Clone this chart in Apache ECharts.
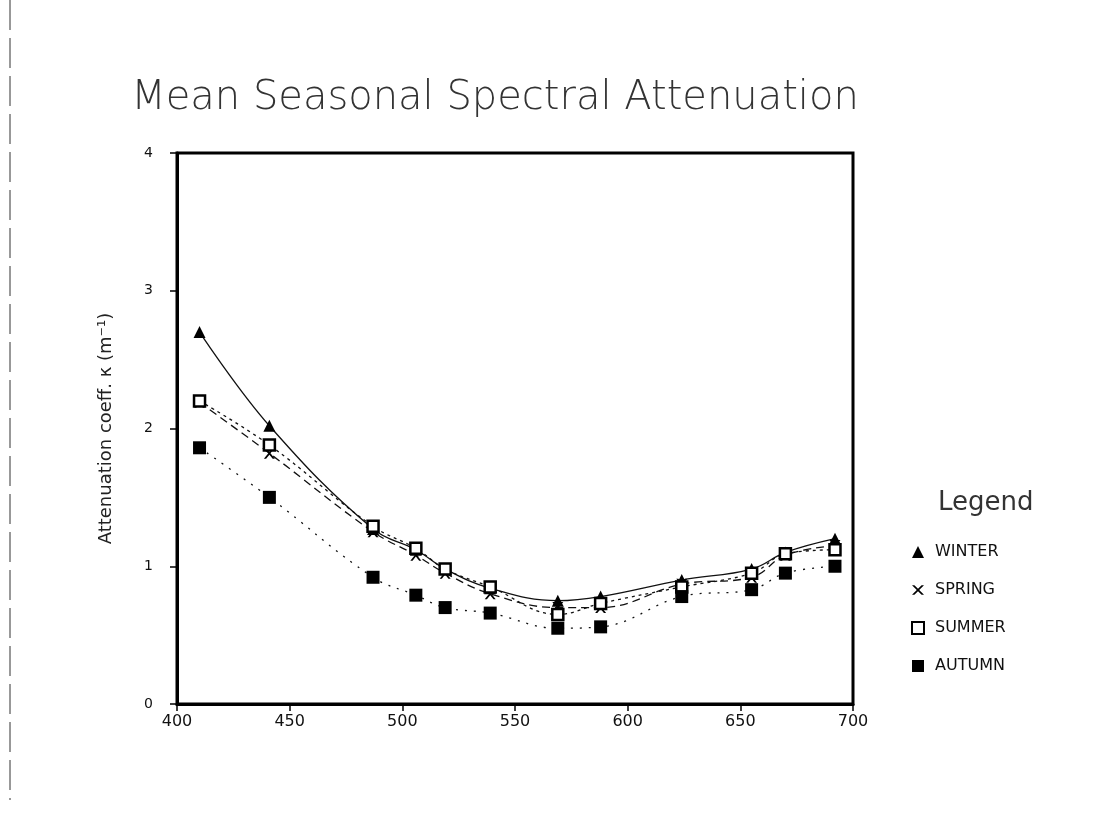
<!DOCTYPE html>
<html>
<head>
<meta charset="utf-8">
<script src="https://cdn.jsdelivr.net/npm/echarts@6/dist/echarts.min.js"></script>
<style>
  html, body { margin: 0; padding: 0; background: #fff; }
  #chart { width: 1101px; height: 819px; }
</style>
</head>
<body>
<div id="chart"></div>
<script>
// wavelengths (nm)
const wavelengths = [410, 441, 487, 506, 519, 539, 569, 588, 624, 655, 670, 692]
const winter = [2.70, 2.02, 1.27, 1.12, 0.98, 0.84, 0.75, 0.78, 0.90, 0.98, 1.10, 1.20]
const spring = [2.19, 1.82, 1.25, 1.08, 0.95, 0.80, 0.70, 0.70, 0.87, 0.92, 1.08, 1.15]
const summer = [2.20, 1.88, 1.29, 1.13, 0.98, 0.85, 0.65, 0.73, 0.85, 0.95, 1.09, 1.12]
const autumn = [1.86, 1.50, 0.92, 0.79, 0.70, 0.66, 0.55, 0.56, 0.78, 0.83, 0.95, 1.00]
const seasons = ['WINTER', 'SPRING', 'SUMMER', 'AUTUMN']

const crossIcon = 'path://M0,0 L2,0 L5,3 L8,0 L10,0 L6,4 L10,8 L8,8 L5,5 L2,8 L0,8 L4,4 Z'

function pairs(values) {
    return wavelengths.map((w, i) => [w, values[i]])
}

function seasonSeries(name, values, symbol, size, lineType, fill) {
    return {
        name: name,
        type: 'line',
        smooth: 0.4,
        data: pairs(values),
        symbol: symbol,
        symbolSize: size,
        lineStyle: { color: '#111', width: 1.3, type: lineType },
        itemStyle: { color: fill, borderColor: '#000', borderWidth: fill === '#fff' ? 2.5 : 0 },
        emphasis: { disabled: true }
    }
}

const chart = echarts.init(document.getElementById('chart'))

chart.setOption({
    backgroundColor: '#fff',
    animation: false,
    title: {
        text: 'Mean Seasonal Spectral Attenuation',
        left: 490,
        textAlign: 'center',
        top: 74,
        textStyle: {
            fontFamily: 'DejaVu Sans',
            fontSize: 40,
            fontWeight: 'lighter',
            color: '#333'
        }
    },
    legend: {
        orient: 'vertical',
        left: 906,
        top: 539,
        itemGap: 22,
        itemWidth: 12,
        itemHeight: 12,
        data: [
            { name: 'WINTER', icon: 'triangle' },
            { name: 'SPRING', icon: crossIcon },
            { name: 'SUMMER', icon: 'emptyRect' },
            { name: 'AUTUMN', icon: 'rect' }
        ],
        textStyle: { fontFamily: 'DejaVu Sans', fontSize: 16, color: '#111', padding: [0, 0, 0, 6] },
        itemStyle: { color: '#000', borderColor: '#000' },
        lineStyle: { opacity: 0 }
    },
    graphic: [
        {
            type: 'text',
            left: 938,
            top: 490,
            style: { text: 'Legend', fontFamily: 'DejaVu Sans', fontSize: 26, fill: '#333' }
        },
        {
            type: 'line',
            shape: { x1: 10, y1: 0, x2: 10, y2: 800 },
            style: { stroke: '#333', lineWidth: 1, lineDash: [30, 8] }
        }
    ],
    grid: {
        left: 177,
        right: 248,
        top: 153,
        bottom: 115,
        show: true,
        borderColor: '#000',
        borderWidth: 3,
        backgroundColor: '#fff'
    },
    xAxis: {
        type: 'value',
        min: 400,
        max: 700,
        interval: 50,
        axisLine: { lineStyle: { color: '#000', width: 3 } },
        axisTick: { show: true, length: 7, lineStyle: { color: '#000', width: 1.5 } },
        axisLabel: { fontFamily: 'DejaVu Sans', fontSize: 16, color: '#111', margin: 10 },
        splitLine: { show: false }
    },
    yAxis: {
        type: 'value',
        min: 0,
        max: 4,
        interval: 1,
        name: 'Attenuation coeff. κ (m⁻¹)',
        nameLocation: 'middle',
        nameGap: 62,
        nameTextStyle: { fontFamily: 'DejaVu Sans', fontSize: 18, color: '#222' },
        axisLine: { lineStyle: { color: '#000', width: 3 } },
        axisTick: { show: true, length: 7, lineStyle: { color: '#000', width: 1.5 } },
        axisLabel: { fontFamily: 'DejaVu Sans', fontSize: 14, color: '#111', margin: 24 },
        splitLine: { show: false }
    },
    series: [
        seasonSeries(seasons[0], winter, 'triangle', 12, 'solid', '#000'),
        seasonSeries(seasons[1], spring, crossIcon, 11, [8, 5], '#000'),
        seasonSeries(seasons[2], summer, 'rect', 11, [3, 4], '#fff'),
        seasonSeries(seasons[3], autumn, 'rect', 13, [2, 7], '#000')
    ]
})
</script>
</body>
</html>
